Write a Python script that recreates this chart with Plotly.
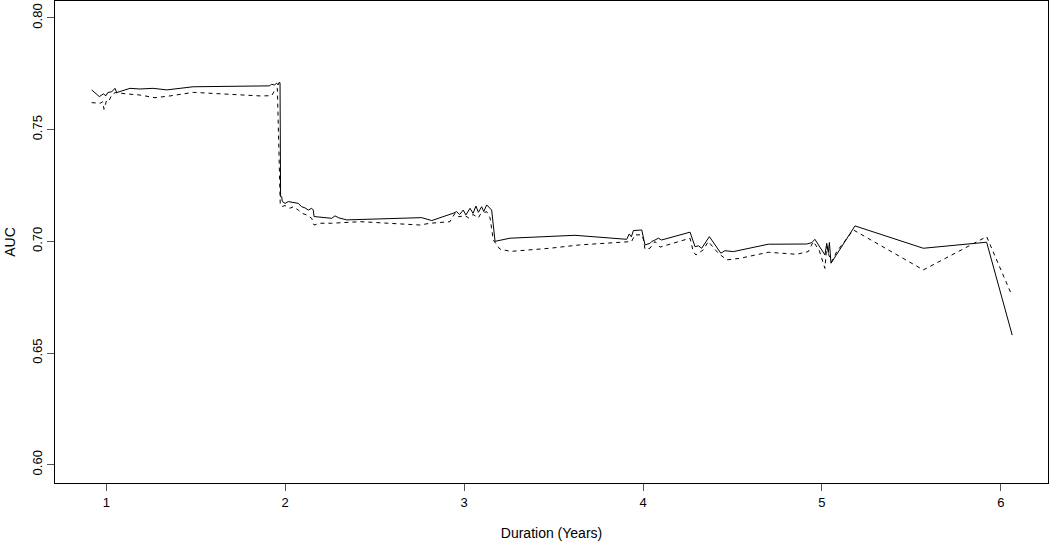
import plotly.graph_objects as go

solid_x = [0.918, 0.961, 0.983, 0.998, 1.008, 1.030, 1.049, 1.058, 1.132, 1.188, 1.261, 1.338, 1.485,
           1.860, 1.911, 1.924, 1.940, 1.952, 1.960, 1.965, 1.971, 1.974, 1.980, 1.984, 1.999, 2.017,
           2.045, 2.073, 2.092, 2.110, 2.129, 2.148, 2.157, 2.161, 2.260, 2.278, 2.300, 2.344, 2.763,
           2.819, 2.940, 2.958, 2.975, 2.995, 3.010, 3.033, 3.050, 3.066, 3.080, 3.098, 3.110, 3.126,
           3.154, 3.173, 3.257, 3.620, 3.909, 3.923, 3.935, 3.946, 3.993, 4.002, 4.011, 4.039, 4.050,
           4.065, 4.086, 4.104, 4.263, 4.291, 4.310, 4.328, 4.371, 4.435, 4.458, 4.505, 4.700, 4.915,
           4.943, 4.961, 5.017, 5.027, 5.036, 5.042, 5.051, 5.185, 5.567, 5.921, 6.064]
solid_y = [0.7678, 0.7648, 0.7660, 0.7652, 0.7666, 0.7670, 0.7685, 0.7666, 0.7685, 0.7682, 0.7685, 0.7678, 0.7692,
           0.7697, 0.7696, 0.7703, 0.7700, 0.7708, 0.7700, 0.7711, 0.7710, 0.7200, 0.7200, 0.7178, 0.7170, 0.7178,
           0.7173, 0.7170, 0.7155, 0.7150, 0.7140, 0.7148, 0.7140, 0.7111, 0.7103, 0.7114, 0.7105, 0.7096, 0.7106,
           0.7093, 0.7126, 0.7133, 0.7120, 0.7140, 0.7118, 0.7148, 0.7125, 0.7158, 0.7130, 0.7155, 0.7133, 0.7163,
           0.7140, 0.7000, 0.7014, 0.7027, 0.7009, 0.7033, 0.7020, 0.7048, 0.7051, 0.7024, 0.6984, 0.6991, 0.7000,
           0.7005, 0.7014, 0.7006, 0.7041, 0.6976, 0.6980, 0.6969, 0.7021, 0.6947, 0.6958, 0.6954, 0.6987, 0.6988,
           0.6994, 0.7009, 0.6939, 0.6991, 0.6950, 0.6995, 0.6902, 0.7069, 0.6969, 0.6996, 0.6580]

dashed_x = [0.918, 0.965, 0.980, 0.987, 1.002, 1.015, 1.030, 1.049, 1.114, 1.188, 1.272, 1.356, 1.486,
            1.860, 1.924, 1.943, 1.956, 1.972, 1.980, 1.999, 2.026, 2.045, 2.073, 2.092, 2.120, 2.148,
            2.161, 2.195, 2.260, 2.420, 2.754, 2.810, 2.921, 2.949, 2.970, 3.005, 3.025, 3.050, 3.080,
            3.090, 3.126, 3.145, 3.163, 3.200, 3.260, 3.480, 3.647, 3.936, 3.955, 3.993, 4.002, 4.011,
            4.039, 4.067, 4.095, 4.263, 4.281, 4.296, 4.337, 4.365, 4.421, 4.468, 4.543, 4.700, 4.859,
            4.924, 4.952, 4.985, 5.017, 5.027, 5.038, 5.055, 5.083, 5.176, 5.567, 5.921, 6.061]
dashed_y = [0.7621, 0.7618, 0.7625, 0.7591, 0.7633, 0.7630, 0.7655, 0.7666, 0.7660, 0.7655, 0.7643, 0.7651, 0.7667,
            0.7651, 0.7652, 0.7678, 0.7685, 0.7170, 0.7155, 0.7160, 0.7148, 0.7155, 0.7140, 0.7126, 0.7118, 0.7103,
            0.7073, 0.7081, 0.7081, 0.7088, 0.7073, 0.7081, 0.7088, 0.7126, 0.7110, 0.7115, 0.7105, 0.7120, 0.7105,
            0.7120, 0.7133, 0.7105, 0.7006, 0.6965, 0.6955, 0.6969, 0.6984, 0.6999, 0.7029, 0.7029, 0.7010, 0.6965,
            0.6969, 0.6999, 0.6974, 0.7014, 0.6954, 0.6939, 0.6962, 0.6999, 0.6947, 0.6917, 0.6924, 0.6951, 0.6942,
            0.6954, 0.6999, 0.6960, 0.6879, 0.6977, 0.6940, 0.6909, 0.6954, 0.7051, 0.6872, 0.7021, 0.6760]

x_ticks = [1, 2, 3, 4, 5, 6]
y_ticks = [0.60, 0.65, 0.70, 0.75, 0.80]

fig = go.Figure()
fig.add_trace(go.Scatter(x=solid_x, y=solid_y, mode="lines",
                         line=dict(color="black", width=1), showlegend=False))
fig.add_trace(go.Scatter(x=dashed_x, y=dashed_y, mode="lines",
                         line=dict(color="black", width=1, dash="4px,4px"), showlegend=False))

axis_common = dict(showgrid=False, zeroline=False, showline=True, mirror=True,
                   linecolor="black", linewidth=1, ticks="outside", ticklen=7,
                   tickcolor="#555555", tickwidth=1, automargin=False,
                   tickfont=dict(family="Liberation Sans, Arial", size=13, color="black"))

fig.update_layout(
    width=1050, height=541,
    margin=dict(l=55, r=2, t=1, b=58),
    paper_bgcolor="white", plot_bgcolor="white",
    font=dict(family="Liberation Sans, Arial", size=12, color="black"),
    xaxis=dict(range=[0.713, 6.264], tickvals=x_ticks, ticktext=[str(v) for v in x_ticks],
               title=dict(text="Duration (Years)", standoff=21), **axis_common),
    yaxis=dict(range=[0.5918, 0.8076], tickvals=y_ticks, ticktext=[f"{v:.2f}" for v in y_ticks],
               tickangle=-90, title=dict(text="AUC", standoff=10), **axis_common),
)

fig.write_html("out.html", config={"displayModeBar": False},
               post_script="document.body.style.margin='0';document.body.style.overflow='hidden';")
